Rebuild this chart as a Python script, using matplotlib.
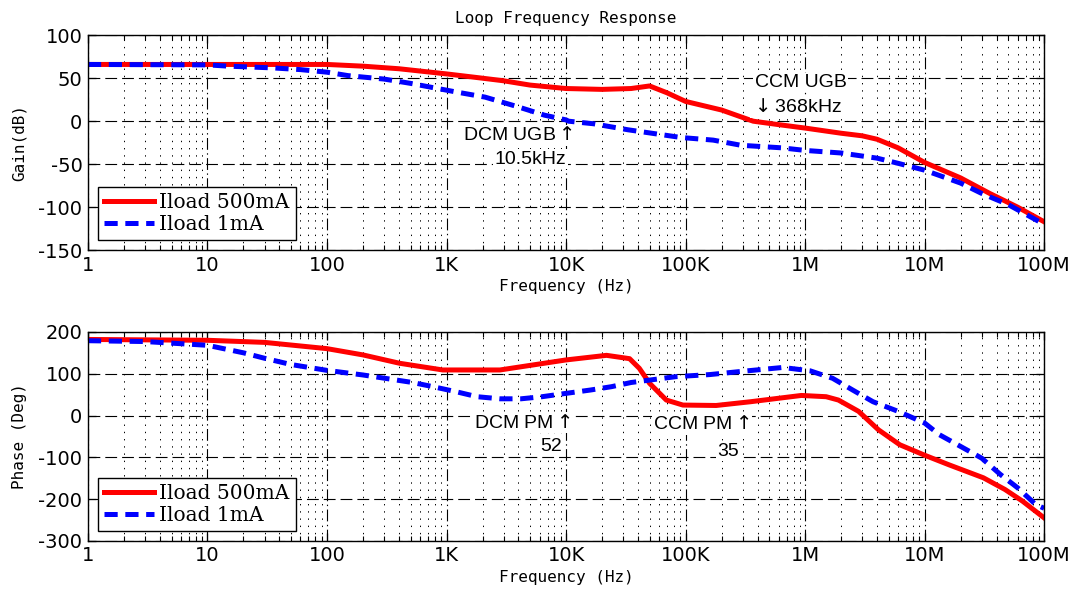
import matplotlib
matplotlib.use("Agg")
import matplotlib.pyplot as plt
from matplotlib.ticker import FixedLocator, LogLocator, NullFormatter

plt.rcParams["lines.scale_dashes"] = False
plt.rcParams["mathtext.fontset"] = "dejavusans"

# frequency axis
freq_ticks = [1, 10, 100, 1e3, 1e4, 1e5, 1e6, 1e7, 1e8]
freq_labels = ["1", "10", "100", "1K", "10K", "100K", "1M", "10M", "100M"]
series_names = ["Iload 500mA", "Iload 1mA"]

# gain, Iload 500mA
gain_500_f = [1, 10, 100, 200, 400, 1e3, 2e3, 3e3, 5e3, 1e4, 2e4, 3.5e4, 5e4,
              7e4, 1e5, 2e5, 3.68e5, 6e5, 1e6, 2e6, 3e6, 4e6, 6e6, 1e7, 2e7,
              3.5e7, 6e7, 1e8]
gain_500_db = [66, 66, 66, 64, 61, 55, 50, 47, 42, 38, 37, 38, 41,
               33, 23, 13, 0, -4, -8, -14, -17, -21, -31, -48, -66,
               -84, -100, -117]

# gain, Iload 1mA
gain_1_f = [1, 10, 15, 35, 60, 100, 150, 300, 500, 1.2e3, 2.1e3, 3.9e3, 6.6e3,
            1e4, 1.05e4, 1.7e4, 3.3e4, 9.2e4, 1.7e5, 2.9e5, 6.4e5, 1e6, 2e6,
            4e6, 6e6, 1e7, 2e7, 3e7, 5e7, 1e8]
gain_1_db = [66, 65.5, 64, 62, 60, 57, 53, 49, 44, 34, 28, 17, 7,
             1.5, 0, -3, -10, -19, -22, -28, -31, -34, -37,
             -43, -49, -57, -72, -84, -97, -120]

# phase, Iload 500mA
phase_500_f = [1, 10, 30, 100, 200, 405, 930, 2.8e3, 1e4, 2.18e4, 3.4e4, 4.1e4,
               5e4, 6.9e4, 9.5e4, 1.8e5, 3.5e5, 9.3e5, 1.5e6, 1.9e6, 2.8e6,
               4.1e6, 6.2e6, 1e7, 1.6e7, 3.1e7, 4.7e7, 6.6e7, 1e8]
phase_500_deg = [182, 180, 175, 160, 145, 125, 109, 109, 133, 144, 136, 113,
                 77, 37, 25, 24, 33, 48, 45, 37, 10,
                 -34, -70, -95, -118, -149, -177, -205, -245]

# phase, Iload 1mA
phase_1_f = [1, 3, 10, 20, 30, 50, 100, 200, 520, 770, 1.2e3, 1.8e3, 2.8e3,
             4.2e3, 6.3e3, 1e4, 1.6e4, 2.4e4, 3.5e4, 8.3e4, 1.6e5, 2.8e5,
             6.5e5, 1.1e6, 1.7e6, 2.5e6, 3.7e6, 6e6, 1e7, 1.33e7, 2e7, 3e7,
             4.3e7, 6e7, 8.5e7, 1e8]
phase_1_deg = [179, 177, 168, 150, 137, 122, 108, 97, 79, 69, 57, 45, 40,
               40, 45, 53, 61, 69, 79, 93, 98, 105,
               115, 107, 89, 61, 33, 10, -18, -46, -74, -102,
               -141, -173, -213, -222]

RED = "#ff0000"
BLUE = "#0000ff"
BLUE_DASH = (0, (9.5, 5.5))

fig = plt.figure(figsize=(10.78, 5.97), dpi=100)
ax_gain = fig.add_axes([0.0816, 0.581, 0.887, 0.360])
ax_phase = fig.add_axes([0.0816, 0.094, 0.887, 0.350])

tick_font = dict(family="DejaVu Sans", size=14)
label_font = dict(family="DejaVu Sans Mono", size=11.5)
note_font = dict(family="Liberation Sans", size=14)
white_box = dict(facecolor="white", edgecolor="none", pad=1)


def style_axes(ax, yticks, ylim):
    ax.set_xscale("log")
    ax.set_xlim(1, 1e8)
    ax.set_ylim(*ylim)
    ax.xaxis.set_major_locator(FixedLocator(freq_ticks))
    ax.set_xticklabels(freq_labels, **tick_font)
    ax.xaxis.set_minor_locator(LogLocator(base=10, subs=range(2, 10), numticks=20))
    ax.xaxis.set_minor_formatter(NullFormatter())
    ax.set_yticks(yticks)
    ax.set_yticklabels([str(v) for v in yticks], **tick_font)
    ax.tick_params(which="both", direction="in", top=True, right=True,
                   color="black", pad=4)
    ax.tick_params(which="major", length=6, width=0.9)
    ax.tick_params(which="minor", length=3.5, width=0.8)
    ax.grid(which="major", axis="y", color="black", lw=0.8, ls=(0, (8.5, 3.6)))
    ax.grid(which="major", axis="x", color="black", lw=0.8,
            ls=(0, (8.5, 2.5, 1, 2.5)))
    ax.grid(which="minor", axis="x", color="black", lw=0.7, ls=(0, (1, 4.2)))
    for sp in ax.spines.values():
        sp.set_linewidth(1.0)
        sp.set_color("black")
    ax.set_xlabel("Frequency (Hz)", labelpad=3, **label_font)


def add_legend(ax):
    leg = ax.legend(loc="lower left", prop=dict(family="DejaVu Serif", size=14.5),
                    frameon=True, fancybox=False, framealpha=1,
                    edgecolor="black", handlelength=2.5, handletextpad=0.25,
                    borderpad=0.3, labelspacing=0.15, borderaxespad=0.5)
    leg.get_frame().set_linewidth(1.0)


# gain plot
ax_gain.plot(gain_500_f, gain_500_db, color=RED, lw=3.6, label=series_names[0])
ax_gain.plot(gain_1_f, gain_1_db, color=BLUE, lw=3.6, ls=BLUE_DASH,
             dash_capstyle="butt", label=series_names[1])
style_axes(ax_gain, [-150, -100, -50, 0, 50, 100], (-150, 100))
ax_gain.set_ylabel("Gain(dB)", labelpad=8, **label_font)
ax_gain.set_title("Loop Frequency Response", pad=9, **label_font)
add_legend(ax_gain)

ax_gain.text(3940, -16.5, r"DCM UGB$\uparrow$", ha="center", va="center",
             bbox=white_box, **note_font)
ax_gain.text(5060, -44, "10.5kHz", ha="center", va="center",
             bbox=white_box, **note_font)
ax_gain.text(9.15e5, 45, "CCM UGB", ha="center", va="center",
             bbox=white_box, **note_font)
ax_gain.text(8.5e5, 16, r"$\downarrow$368kHz", ha="center", va="center",
             bbox=white_box, **note_font)

# phase plot
ax_phase.plot(phase_500_f, phase_500_deg, color=RED, lw=3.6, label=series_names[0])
ax_phase.plot(phase_1_f, phase_1_deg, color=BLUE, lw=3.6, ls=BLUE_DASH,
              dash_capstyle="butt", label=series_names[1])
style_axes(ax_phase, [-300, -200, -100, 0, 100, 200], (-300, 200))
ax_phase.set_ylabel("Phase (Deg)", labelpad=8, **label_font)
add_legend(ax_phase)

ax_phase.text(4340, -17, r"DCM PM$\uparrow$", ha="center", va="center",
              bbox=white_box, **note_font)
ax_phase.text(7430, -74, "52", ha="center", va="center",
              bbox=white_box, **note_font)
ax_phase.text(1.36e5, -21, r"CCM PM$\uparrow$", ha="center", va="center",
              bbox=white_box, **note_font)
ax_phase.text(2.29e5, -86, "35", ha="center", va="center",
              bbox=white_box, **note_font)

fig.savefig("out.png", dpi=100, facecolor="white")
